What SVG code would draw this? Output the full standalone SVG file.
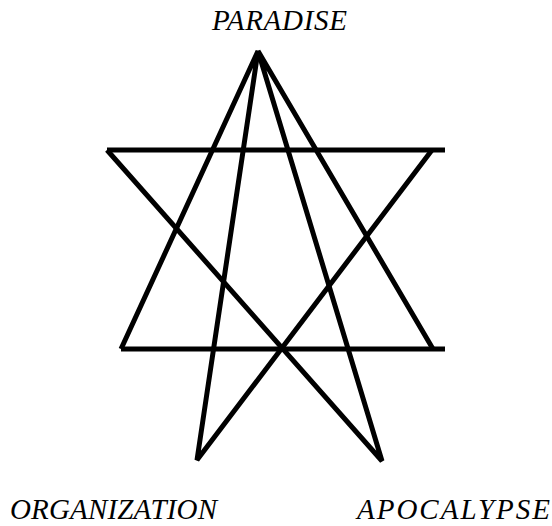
<svg xmlns="http://www.w3.org/2000/svg" width="552" height="526" viewBox="0 0 552 526">
<style>
.ln{fill:none;stroke:#000;stroke-width:5;stroke-linejoin:miter;stroke-linecap:butt}
.lb{font-family:"Liberation Serif",serif;font-style:italic;font-size:29px;fill:#000}
</style>
<rect width="552" height="526" fill="#fff"/>
<g id="connectors">
<polyline class="ln" points="121,349 258,51 197,460 432,150"/>
<line class="ln" x1="107" y1="150" x2="445" y2="150"/>
<polyline class="ln" points="107,150 382,461 258,51 433,349"/>
<line class="ln" x1="121" y1="349" x2="445" y2="349"/>
</g>
<g id="paradise"><text class="lb" x="212" y="30" textLength="135" lengthAdjust="spacing">PARADISE</text></g>
<g id="organization"><text class="lb" x="10" y="519" textLength="207" lengthAdjust="spacing">ORGANIZATION</text></g>
<g id="apocalypse"><text class="lb" x="357" y="519" textLength="193" lengthAdjust="spacing">APOCALYPSE</text></g>
</svg>
